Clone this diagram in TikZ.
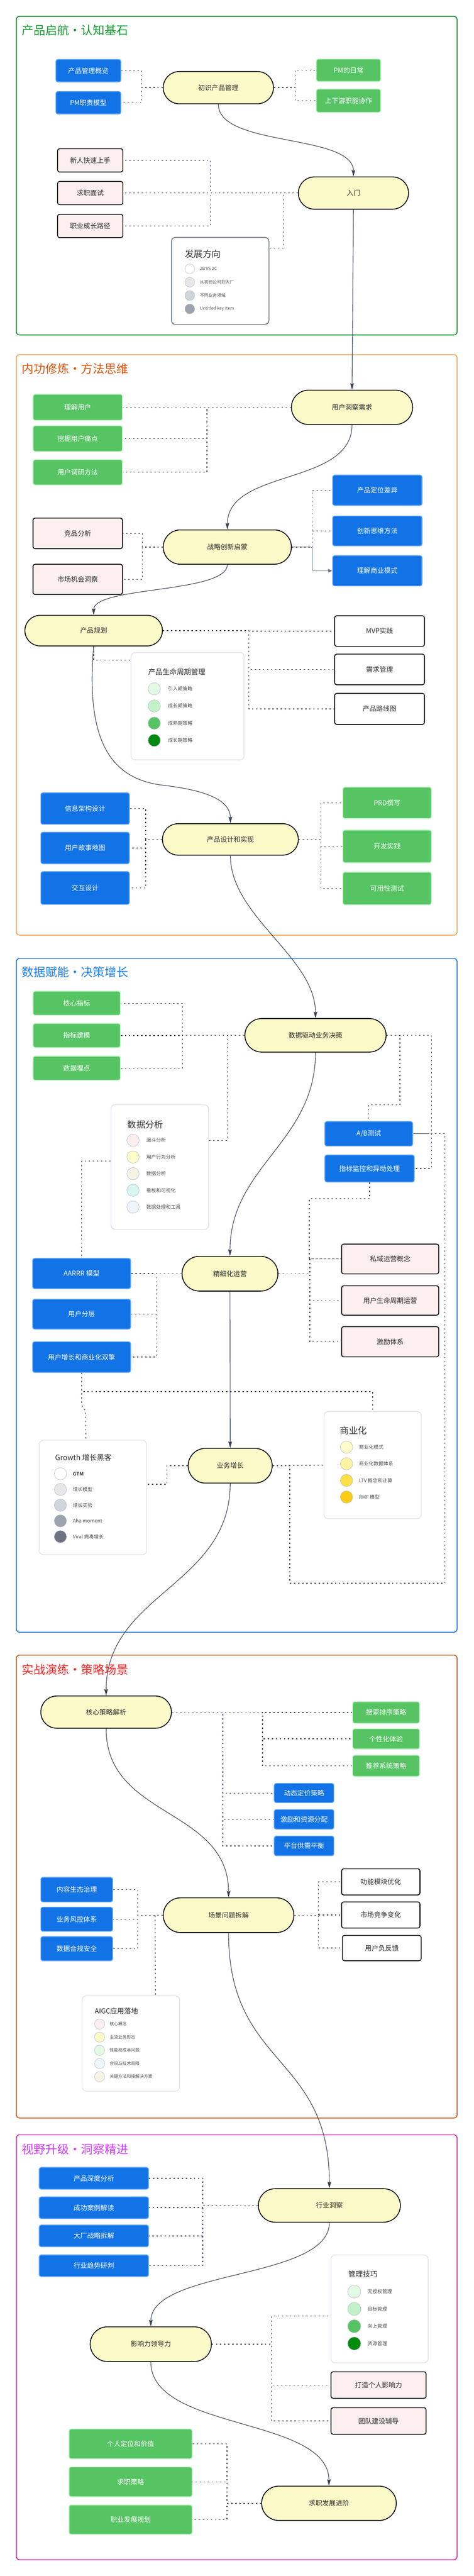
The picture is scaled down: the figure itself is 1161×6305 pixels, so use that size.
\documentclass[tikz,border=0pt]{standalone}
\usepackage{fontspec}
\setmainfont{Noto Sans CJK SC}
\usetikzlibrary{arrows.meta,positioning,shapes.misc}
\definecolor{stagefill}{HTML}{FCFAC8}
\definecolor{bluefill}{HTML}{1273E6}
\definecolor{blueedge}{HTML}{5DA2F7}
\definecolor{greenfill}{HTML}{57C464}
\definecolor{greenedge}{HTML}{BDF3C5}
\definecolor{pinkfill}{HTML}{FDEFEF}
\definecolor{linkgrey}{HTML}{3A4150}
\definecolor{textdark}{HTML}{2B2B2B}
\definecolor{keyedge}{HTML}{E2E5EA}
\definecolor{keydark}{HTML}{6B7280}
\definecolor{dotedge}{HTML}{B8BCC4}
\definecolor{grayA}{HTML}{E5E7EB}
\definecolor{grayB}{HTML}{D1D5DB}
\definecolor{grayC}{HTML}{9CA3AF}
\definecolor{grayD}{HTML}{6B7280}
\definecolor{gnA}{HTML}{E3F9E5}
\definecolor{gnB}{HTML}{C1F2C7}
\definecolor{gnC}{HTML}{57C464}
\definecolor{gnD}{HTML}{008A0E}
\definecolor{pkA}{HTML}{FDEEEE}
\definecolor{ylA}{HTML}{FDFBC8}
\definecolor{ylB}{HTML}{FEF3A0}
\definecolor{ylC}{HTML}{FDE047}
\definecolor{ylD}{HTML}{FACC15}
\definecolor{bgA}{HTML}{F5F3E4}
\definecolor{mtA}{HTML}{D6F7F0}
\definecolor{blA}{HTML}{EEF5FD}
\definecolor{zoneGreen}{HTML}{0A8A1A}
\definecolor{titleGreen}{HTML}{139A2E}
\definecolor{zoneOrange}{HTML}{F5A04A}
\definecolor{titleOrange}{HTML}{D9560E}
\definecolor{zoneBlue}{HTML}{1671E3}
\definecolor{titleBlue}{HTML}{1F7FEE}
\definecolor{zoneRust}{HTML}{C9500C}
\definecolor{titleRed}{HTML}{FF2424}
\definecolor{zoneMagenta}{HTML}{DE1EB0}
\definecolor{titleMagenta}{HTML}{D03CF5}
\newcommand{\boxfont}{\fontsize{16.5}{20}\selectfont}
%legend rows: name, x, first y, step, dot size, gap, font size, colour/text list
\newcommand\keyitems[8]{%
    \foreach \c/\t [count=\i] in {#8}{%
        \node[keydot, fill=\c, minimum size=#5] (#1-\i) at (#2,{#3+#4*(\i-1)}) {};
        \node[keytext, font=\fontsize{#7}{#7}\selectfont, right=#6 of #1-\i] (#1-\i t) {\t};
    }%
}
\tikzset{
    wh/.style 2 args={minimum width=#1pt, minimum height=#2pt},
    stagenode/.style={rounded rectangle, draw=black, line width=2pt, fill=stagefill, text=textdark, font=\boxfont, inner sep=0},
    bluebox/.style={rectangle, rounded corners=5pt, draw=blueedge, line width=2pt, fill=bluefill, text=white, font=\boxfont, inner sep=0},
    greenbox/.style={rectangle, rounded corners=5pt, draw=greenedge, line width=2pt, fill=greenfill, text=white, font=\boxfont, inner sep=0},
    pinkbox/.style={rectangle, rounded corners=5pt, draw=black, line width=2pt, fill=pinkfill, text=textdark, font=\boxfont, inner sep=0},
    plainbox/.style={rectangle, rounded corners=5pt, draw=black, line width=2pt, fill=white, text=textdark, font=\boxfont, inner sep=0},
    keybox/.style={rectangle, rounded corners=10pt, draw=keyedge, line width=2pt, fill=white, inner sep=0},
    keydot/.style={circle, draw=dotedge, line width=0.8pt, inner sep=0},
    keytext/.style={anchor=west, inner sep=0, text=textdark!85},
    keytitle/.style={anchor=west, inner sep=0, text=textdark},
    zone/.style={draw=#1, line width=2pt, rounded corners=8pt},
    zonetitle/.style={anchor=west, inner sep=0, text=#1, font=\fontsize{29}{32}\selectfont},
    dotlink/.style={draw=linkgrey, line width=1.7pt, dash pattern=on 3.5pt off 6.5pt},
    flowline/.style={draw=linkgrey, line width=1.4pt, -{Stealth[length=16pt,width=9pt,inset=2.5pt]}},
    elbowarrow/.style={draw=keydark, line width=1.2pt, rounded corners=4pt, -{Triangle[length=10pt,width=9pt]}}
}
\begin{document}
\begin{tikzpicture}[x=1pt,y=-1pt]
\useasboundingbox[fill=white] (0,0) rectangle (1161,6305);

%section frames
\draw[zone=zoneGreen] (40,40) rectangle (1120,820);
\draw[zone=zoneOrange] (40,868) rectangle (1120,2289);
\draw[zone=zoneBlue] (40,2346) rectangle (1120,3995);
\draw[zone=zoneRust] (40,4051) rectangle (1120,5184);
\draw[zone=zoneMagenta] (40,5225) rectangle (1120,6265);
\node[zonetitle=titleGreen] (t1) at (53,74) {产品启航·认知基石};
\node[zonetitle=titleOrange] (t2) at (53,902) {内功修炼·方法思维};
\node[zonetitle=titleBlue] (t3) at (53,2379) {数据赋能·决策增长};
\node[zonetitle=titleRed] (t4) at (53,4086) {实战演练·策略场景};
\node[zonetitle=titleMagenta] (t5) at (53,5260) {视野升级·洞察精进};

%legends
\node[keybox, draw=keydark, wh={239}{213}] (key1) at (539.5,687.5) {};
\node[keytitle, font=\fontsize{22}{24}\selectfont] (key1t) at (453,622) {发展方向};
\keyitems{key1}{465}{658}{32.7}{24pt}{12pt}{10.5}{white/2B VS 2C, grayA/从初创公司到大厂, grayB/不同业务领域, grayC/Untitled key item}
\node[keybox, wh={277}{263}] (key2) at (459.5,1728.5) {};
\node[keytitle, font=\fontsize{17.5}{20}\selectfont] (key2t) at (363,1645) {产品生命周期管理};
\keyitems{key2}{378}{1686}{42}{30pt}{18pt}{12}{gnA/引入期策略, gnB/成长期策略, gnC/成熟期策略, gnD/成长期策略}
\node[keybox, wh={239}{305}] (key3) at (391.5,2856.5) {};
\node[keytitle, font=\fontsize{22}{24}\selectfont] (key3t) at (312,2752) {数据分析};
\keyitems{key3}{326}{2791}{40.8}{30pt}{17pt}{12}{pkA/漏斗分析, ylA/用户行为分析, bgA/数据分析, mtA/看板和可视化, blA/数据处理和工具}
\node[keybox, wh={238}{262}] (key4) at (913,3586) {};
\node[keytitle, font=\fontsize{22}{24}\selectfont] (key4t) at (833,3502) {商业化};
\keyitems{key4}{849}{3542}{40.7}{30pt}{15pt}{12}{ylA/商业化模式, ylB/商业化数据体系, ylC/LTV 概念和计算, ylD/RMF 模型}
\node[keybox, wh={263}{280}] (key5) at (227.5,3665) {};
\node[keytitle, font=\fontsize{18}{20}\selectfont] (key5t) at (135,3568) {Growth 增长黑客};
\keyitems{key5}{148}{3607}{38.5}{30pt}{15pt}{12}{white/{\bfseries GTM}, grayA/增长模型, grayB/增长实验, grayC/Aha moment, grayD/Viral 病毒增长}
\node[keybox, wh={239}{233}] (key6) at (320.5,5001.5) {};
\node[keytitle, font=\fontsize{17}{20}\selectfont] (key6t) at (232,4922) {AIGC应用落地};
\keyitems{key6}{244}{4954}{32.2}{25pt}{11.5pt}{10.5}{pkA/核心概念, ylA/主流业务形态, gnA/性能和成本问题, blA/合规与技术局限, bgA/关键方法和接解决方案}
\node[keybox, wh={238}{264}] (key7) at (930,5651) {};
\node[keytitle, font=\fontsize{18}{20}\selectfont] (key7t) at (853,5566) {管理技巧};
\keyitems{key7}{868}{5609}{42.3}{32pt}{16pt}{12}{gnA/无授权管理, gnB/目标管理, gnC/向上管理, gnD/资源管理}

%产品启航
\node[stagenode, wh={270}{79}] (s1) at (535,214.5) {初识产品管理};
\node[bluebox, wh={159}{55}] (b1) at (216.5,173) {产品管理概览};
\node[bluebox, wh={159}{55}] (b2) at (216.5,251.5) {PM职责模型};
\node[greenbox, wh={158}{55}] (g1) at (854,172) {PM的日常};
\node[greenbox, wh={158}{57}] (g2) at (854,246.5) {上下游职能协作};
\node[stagenode, wh={270}{79}] (s2) at (866,472.5) {入门};
\node[pinkbox, wh={160}{57}] (p1) at (221,392.5) {新人快速上手};
\node[pinkbox, wh={160}{57}] (p2) at (221,472.5) {求职面试};
\node[pinkbox, wh={160}{57}] (p3) at (221,553) {职业成长路径};

%内功修炼
\node[stagenode, wh={297}{84}] (s3) at (862.5,997) {用户洞察需求};
\node[greenbox, wh={219}{64}] (g3) at (190.5,997) {理解用户};
\node[greenbox, wh={219}{63}] (g4) at (190.5,1073.5) {挖掘用户痛点};
\node[greenbox, wh={219}{62}] (g5) at (190.5,1156) {用户调研方法};
\node[stagenode, wh={314}{84}] (s4) at (557,1339) {战略创新启蒙};
\node[pinkbox, wh={219}{75}] (p4) at (190.5,1305.5) {竞品分析};
\node[pinkbox, wh={219}{74}] (p5) at (190.5,1418) {市场机会洞察};
\node[bluebox, wh={219}{74}] (b3) at (924.5,1200) {产品定位差异};
\node[bluebox, wh={219}{73}] (b4) at (924.5,1299.5) {创新思维方法};
\node[bluebox, wh={219}{74}] (b5) at (924.5,1397) {理解商业模式};
\node[stagenode, wh={337}{75}] (s5) at (229.5,1543.5) {产品规划};
\node[plainbox, wh={220}{75}] (w1) at (930,1544.5) {MVP实践};
\node[plainbox, wh={220}{75}] (w2) at (930,1638.5) {需求管理};
\node[plainbox, wh={220}{76}] (w3) at (930,1735) {产品路线图};
\node[stagenode, wh={333}{77}] (s6) at (564.5,2054.5) {产品设计和实现};
\node[bluebox, wh={217}{77}] (b6) at (208.5,1979) {信息架构设计};
\node[bluebox, wh={217}{77}] (b7) at (208.5,2075.5) {用户故事地图};
\node[bluebox, wh={217}{80}] (b8) at (208.5,2173.5) {交互设计};
\node[greenbox, wh={217}{77}] (g6) at (948.5,1965) {PRD撰写};
\node[greenbox, wh={217}{80}] (g7) at (948.5,2071.5) {开发实践};
\node[greenbox, wh={217}{80}] (g8) at (948.5,2174.5) {可用性测试};

%数据赋能
\node[stagenode, wh={346}{82}] (s7) at (773,2534) {数据驱动业务决策};
\node[greenbox, wh={214}{59}] (g9) at (188,2455.5) {核心指标};
\node[greenbox, wh={214}{59}] (g10) at (188,2534.5) {指标建模};
\node[greenbox, wh={214}{59}] (g11) at (188,2614.5) {数据埋点};
\node[bluebox, wh={215}{60}] (b9) at (903.5,2775) {A/B测试};
\node[bluebox, wh={219}{66}] (b10) at (905.5,2860) {指标监控和异动处理};
\node[stagenode, wh={235}{85}] (s8) at (563.5,3117.5) {精细化运营};
\node[bluebox, wh={240}{74}] (b11) at (200,3117) {AARRR 模型};
\node[bluebox, wh={240}{73}] (b12) at (200,3216.5) {用户分层};
\node[bluebox, wh={240}{75}] (b13) at (200,3321.5) {用户增长和商业化双擎};
\node[pinkbox, wh={238}{73}] (p6) at (956,3081.5) {私域运营概念};
\node[pinkbox, wh={238}{72}] (p7) at (956,3183) {用户生命周期运营};
\node[pinkbox, wh={238}{74}] (p8) at (956,3284) {激励体系};
\node[stagenode, wh={206}{85}] (s9) at (564,3587.5) {业务增长};

%实战演练
\node[stagenode, wh={320}{79}] (s10) at (260,4190.5) {核心策略解析};
\node[greenbox, wh={164}{53}] (g12) at (946,4191.5) {搜索排序策略};
\node[greenbox, wh={164}{50}] (g13) at (946,4256) {个性化体验};
\node[greenbox, wh={164}{52}] (g14) at (946,4322) {推荐系统策略};
\node[bluebox, wh={146}{47}] (b14) at (745,4388.5) {动态定价策略};
\node[bluebox, wh={146}{48}] (b15) at (745,4453) {激励和资源分配};
\node[bluebox, wh={146}{48}] (b16) at (745,4518) {平台供需平衡};
\node[stagenode, wh={320}{85}] (s11) at (560,4687.5) {场景问题拆解};
\node[plainbox, wh={192}{64}] (w4) at (933,4606) {功能模块优化};
\node[plainbox, wh={192}{64}] (w5) at (933,4687) {市场竞争变化};
\node[plainbox, wh={193}{62}] (w6) at (935.5,4768) {用户负反馈};
\node[bluebox, wh={176}{60}] (b17) at (188,4625) {内容生态治理};
\node[bluebox, wh={176}{59}] (b18) at (188,4697.5) {业务风控体系};
\node[bluebox, wh={176}{59}] (b19) at (188,4769.5) {数据合规安全};

%视野升级
\node[stagenode, wh={348}{82}] (s12) at (807,5398) {行业洞察};
\node[bluebox, wh={268}{53}] (b20) at (230,5331.5) {产品深度分析};
\node[bluebox, wh={268}{53}] (b21) at (230,5403.5) {成功案例解读};
\node[bluebox, wh={268}{53}] (b22) at (230,5472.5) {大厂战略拆解};
\node[bluebox, wh={268}{53}] (b23) at (230,5545.5) {行业趋势研判};
\node[stagenode, wh={297}{85}] (s13) at (369.5,5737.5) {影响力领导力};
\node[pinkbox, wh={233}{65}] (p9) at (927.5,5837.5) {打造个人影响力};
\node[pinkbox, wh={233}{65}] (p10) at (927.5,5925.5) {团队建设辅导};
\node[stagenode, wh={330}{84}] (s14) at (806,6127) {求职发展进阶};
\node[greenbox, wh={302}{73}] (g15) at (320,5981.5) {个人定位和价值};
\node[greenbox, wh={302}{73}] (g16) at (320,6074.5) {求职策略};
\node[greenbox, wh={302}{72}] (g17) at (320,6167) {职业发展规划};

%dotted links: stage -- bus -- box
\foreach \n in {b1,b2} \draw[dotlink] (s1.west) -- ++(-52,0) |- (\n.east);
\foreach \n in {g1,g2} \draw[dotlink] (s1.east) -- ++(52,0) |- (\n.west);
\foreach \n in {p1,p2,p3} \draw[dotlink] (s2.west) -- ++(-215,0) |- (\n.east);
\draw[dotlink] (s2.west) -- ++(-36,0) |- ([yshift=-27pt]key1.north east);
\foreach \n in {g3,g4,g5} \draw[dotlink] (s3.west) -- ++(-206,0) |- (\n.east);
\foreach \n in {p4,p5} \draw[dotlink] (s4.west) -- ++(-50,0) |- (\n.east);
\foreach \n in {b3,b4} \draw[dotlink] (s4.east) -- ++(50,0) |- (\n.west);
\draw[elbowarrow] (s4.east) -- ++(50,0) |- (b5.west);
\foreach \n in {w1,w2,w3} \draw[dotlink] (s5.east) -- ++(211,0) |- (\n.west);
\draw[dotlink] (s5.south) |- ([yshift=-20pt]key2.north west);
\foreach \n in {b6,b7,b8} \draw[dotlink] (s6.west) -- ++(-40,0) |- (\n.east);
\foreach \n in {g6,g7,g8} \draw[dotlink] (s6.east) -- ++(54,0) |- (\n.west);
\foreach \n in {g9,g10,g11} \draw[dotlink] (s7.west) -- ++(-152,0) |- (\n.east);
\draw[dotlink] (s7.west) -- ++(-42,0) |- ([yshift=-88pt]key3.north east);
\draw[dotlink] ([yshift=-139pt]key3.north west) -| (b11.north);
\draw[dotlink] (s7.east) -| (980,2704) -| (b9.north);
\draw[dotlink] (s7.east) -| (1057,2860) -- (b10.east);
\draw[dotlink] (b10.south) -- ++(0,40) -| (758,3081.5) -- (p6.west);
\foreach \n in {p6,p7,p8} \draw[dotlink] (s8.east) -- ++(77,0) |- (\n.west);
\foreach \n in {b11,b12,b13} \draw[dotlink] (s8.west) -- ++(-62,0) |- (\n.east);
\draw[dotlink] (b13.south) |- (913,3406) -- (key4.north);
\draw[dotlink, rounded corners=5pt] (b13.south) -- ++(0,81) -- ++(10,12) -- ([xshift=-17pt]key5.north);
\draw[dotlink] (s9.west) -- ++(-51,0) |- ([yshift=-109pt]key5.north east);
\draw[dotlink] (s9.east) -- (key4.west);
\draw[dotlink] (s9.east) -- ++(42,0) |- (1090,3875) |- (b9.east);
\draw[draw=linkgrey, line width=2pt] (b9.east) -- ++(40,0);
\foreach \n in {g12,g13,g14} \draw[dotlink] (s10.east) -- ++(222,0) |- (\n.west);
\foreach \n in {b14,b15,b16} \draw[dotlink] (s10.east) -- ++(125,0) |- (\n.west);
\foreach \n in {b17,b18,b19} \draw[dotlink] (s11.west) -- ++(-62,0) |- (\n.east);
\draw[dotlink] (s11.west) -- ++(-19,0) -- ([xshift=60.5pt]key6.north);
\foreach \n in {w4,w5,w6} \draw[dotlink] (s11.east) -- ++(59,0) |- (\n.west);
\foreach \n in {b20,b21,b22,b23} \draw[dotlink] (s12.west) -- ++(-135,0) |- (\n.east);
\draw[dotlink] (s13.east) -- ++(146,0) |- ([yshift=-151pt]key7.north west);
\foreach \n in {p9,p10} \draw[dotlink] (s13.east) -- ++(146,0) |- (\n.west);
\foreach \n in {g15,g16,g17} \draw[dotlink] (s14.west) -- ++(-84,0) |- (\n.east);

%main flow from stage to stage
\draw[flowline] (s1.south) .. controls +(0,106) and +(0,-106) .. (s2.north);
\draw[flowline] (s2.south) -- (s3.north);
\draw[flowline] (s3.south) .. controls +(0,150) and +(0,-150) .. (s4.north);
\draw[flowline] (s4.south) .. controls +(0,70) and +(0,-70) .. (s5.north);
\draw[flowline] (s5.south) .. controls +(-20,230) and +(-130,-15) .. (400,1922) .. controls +(110,13) and +(0,-55) .. (s6.north);
\draw[flowline] (s6.south) .. controls +(0,150) and +(0,-150) .. (s7.north);
\draw[flowline] (s7.south) .. controls +(0,220) and +(0,-220) .. (s8.north);
\draw[flowline] (s8.south) -- (s9.north);
\draw[flowline] (s9.south) .. controls +(0,250) and +(0,-250) .. (s10.north);
\draw[flowline] (s10.south) .. controls +(0,220) and +(0,-220) .. (s11.north);
\draw[flowline] (s11.south) .. controls +(0,330) and +(0,-330) .. (s12.north);
\draw[flowline] (s12.south) .. controls +(0,140) and +(0,-140) .. (s13.north);
\draw[flowline] (s13.south) .. controls +(0,170) and +(0,-170) .. (s14.north);
\end{tikzpicture}
\end{document}
